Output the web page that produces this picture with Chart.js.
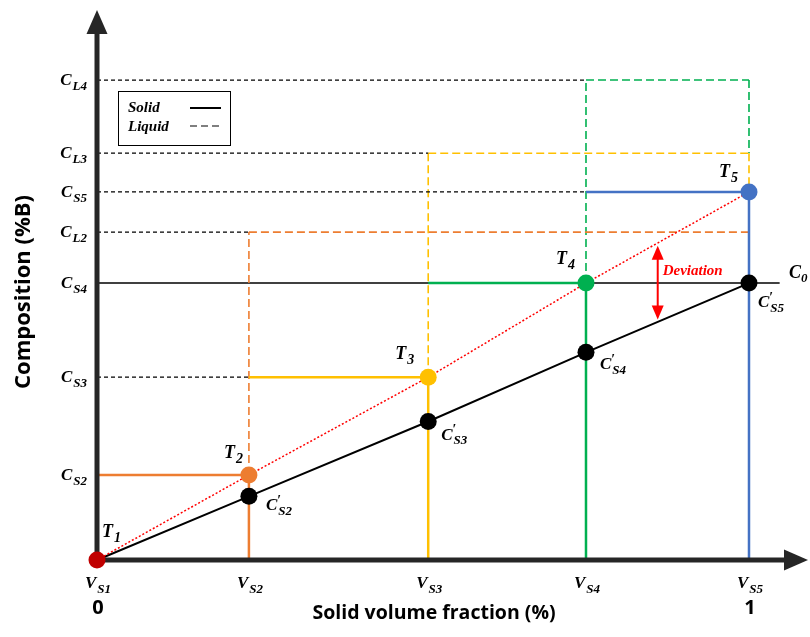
<!DOCTYPE html>
<html>
<head>
    <title>Solid volume fraction vs composition</title>
    <style>
        body {
            margin: 0;
            background: white;
        }
        .chart-box {
            width: 810px;
            height: 637px;
        }
    </style>
</head>
<body>
    <div class="chart-box">
        <canvas id="segChart"></canvas>
    </div>

    <script src="https://cdn.jsdelivr.net/npm/chart.js"></script>
    <script>
        // solid volume fraction of each step (V_S1 .. V_S5)
        const vs = [0, 0.233, 0.508, 0.75, 1];
        const vsNames = ['S1', 'S2', 'S3', 'S4', 'S5'];
        // solid composition at each T point (C_S1 .. C_S5)
        const cs = [0, 0.307, 0.66, 1.0, 1.329];
        // liquid composition for steps 2..4 (C_L2 .. C_L4)
        const cl = [1.184, 1.469, 1.733];
        // average solid composition C'_S
        const csPrime = [0, 0.23, 0.50, 0.75, 1.0];
        const c0 = 1.0;
        const stepColors = ['#C00000', '#ED7D31', '#FFC000', '#00B050', '#4472C4'];
        // y labels: [name, value]
        const yTicks = [
            ['S2', cs[1]], ['S3', cs[2]], ['S4', cs[3]], ['L2', cl[0]],
            ['S5', cs[4]], ['L3', cl[1]], ['L4', cl[2]]
        ];
        // deviation arrow: x, top, bottom
        const deviation = [0.86, 1.135, 0.868];
        const c0End = 1.047;

        const serif = '"Liberation Serif", "DejaVu Serif", serif';
        const datasets = [];

        function seg(x1, y1, x2, y2, color, width, dash, order) {
            datasets.push({
                data: [{ x: x1, y: y1 }, { x: x2, y: y2 }],
                showLine: true,
                borderColor: color,
                borderWidth: width,
                borderDash: dash || [],
                pointRadius: 0,
                fill: false,
                clip: false,
                order: order || 5
            });
        }

        // black dashed guides from the y axis
        seg(0, cs[2], vs[1], cs[2], '#000', 1.3, [4, 3]);
        seg(0, cs[4], vs[3], cs[4], '#000', 1.3, [4, 3]);
        seg(0, cl[0], vs[1], cl[0], '#000', 1.3, [4, 3]);
        seg(0, cl[1], vs[2], cl[1], '#000', 1.3, [4, 3]);
        seg(0, cl[2], vs[3], cl[2], '#000', 1.3, [4, 3]);
        // C0 line
        seg(0, c0, c0End, c0, '#000', 1.5, [], 6);

        // liquid (dashed) per step
        for (let i = 1; i <= 3; i++) {
            const col = stepColors[i];
            seg(vs[i], cs[i], vs[i], cl[i - 1], col, 1.6, [8, 4]);
            seg(vs[i], cl[i - 1], vs[4], cl[i - 1], col, 1.6, [8, 4]);
            if (i > 1) seg(vs[4], cl[i - 1], vs[4], i === 2 ? cs[4] : cl[i - 2], col, 1.6, [8, 4]);
        }

        // solid per step
        for (let i = 1; i <= 4; i++) {
            const col = stepColors[i];
            seg(vs[i - 1], cs[i], vs[i], cs[i], col, 2.5, [], 4);
            seg(vs[i], 0, vs[i], cs[i], col, 2.5, [], 4);
        }

        // average solid line
        datasets.push({
            data: vs.map((v, i) => ({ x: v, y: csPrime[i] })),
            showLine: true, borderColor: '#000', borderWidth: 2,
            pointRadius: 0, clip: false, order: 3
        });
        // T points line (dotted)
        datasets.push({
            data: vs.map((v, i) => ({ x: v, y: cs[i] })),
            showLine: true, borderColor: '#FF0000', borderWidth: 1.5,
            borderDash: [2, 2], pointRadius: 0, clip: false, order: 2
        });
        // markers
        const markerPts = [], markerCols = [];
        vs.forEach((v, i) => {
            if (i > 0) { markerPts.push({ x: v, y: csPrime[i] }); markerCols.push('#000'); }
        });
        vs.forEach((v, i) => { markerPts.push({ x: v, y: cs[i] }); markerCols.push(stepColors[i]); });
        datasets.push({
            data: markerPts, showLine: false, pointRadius: 8.5,
            pointBackgroundColor: markerCols, pointBorderWidth: 0,
            pointBorderColor: markerCols, clip: false, order: 1, isMarkers: true
        });

        function subText(ctx, x, y, main, sub, size, align, prime) {
            const mf = 'italic bold ' + size + 'px ' + serif;
            const sf = 'italic bold ' + Math.round(size * 0.76) + 'px ' + serif;
            ctx.font = mf;
            const mw = ctx.measureText(main).width;
            ctx.font = sf;
            const sw = ctx.measureText(sub).width;
            const total = mw + sw + 1;
            let left = x;
            if (align === 'right') left = x - total;
            if (align === 'center') left = x - total / 2;
            ctx.textAlign = 'left';
            ctx.textBaseline = 'alphabetic';
            ctx.font = mf;
            ctx.fillText(main, left, y);
            ctx.font = sf;
            ctx.fillText(sub, left + mw + 1, y + size * 0.28);
            if (prime) {
                ctx.font = 'bold ' + Math.round(size * 0.8) + 'px ' + serif;
                ctx.fillText('\u2032', left + mw, y - size * 0.3);
            }
        }

        function tri(ctx, pts) {
            ctx.beginPath();
            ctx.moveTo(pts[0], pts[1]);
            ctx.lineTo(pts[2], pts[3]);
            ctx.lineTo(pts[4], pts[5]);
            ctx.closePath();
            ctx.fill();
        }

        const axesPlugin = {
            id: 'axesPlugin',
            beforeDatasetDraw(chart, args) {
                if (!chart.data.datasets[args.index].isMarkers) return;
                const { ctx, chartArea: a } = chart;
                const x0 = chart.scales.x.getPixelForValue(0);
                const y0 = chart.scales.y.getPixelForValue(0);
                ctx.save();
                ctx.strokeStyle = '#262626';
                ctx.fillStyle = '#262626';
                ctx.lineWidth = 5;
                ctx.beginPath();
                ctx.moveTo(x0, y0 + 2.5);
                ctx.lineTo(x0, a.top + 20);
                ctx.moveTo(x0 - 2.5, y0);
                ctx.lineTo(a.right - 20, y0);
                ctx.stroke();
                tri(ctx, [x0, a.top, x0 - 10.5, a.top + 24, x0 + 10.5, a.top + 24]);
                tri(ctx, [a.right, y0, a.right - 24, y0 - 10.5, a.right - 24, y0 + 10.5]);
                ctx.restore();
            },
            afterDatasetsDraw(chart) {
                const { ctx } = chart;
                const sx = chart.scales.x, sy = chart.scales.y;
                const px = v => sx.getPixelForValue(v);
                const py = v => sy.getPixelForValue(v);
                ctx.save();
                ctx.fillStyle = '#000';
                // y labels
                yTicks.forEach(t => subText(ctx, 87, py(t[1]) + 5, 'C', t[0], 17, 'right'));
                // x labels
                vs.forEach((v, i) => subText(ctx, px(v) + 1, 588, 'V', vsNames[i], 17, 'center'));
                ctx.font = 'bold 20px "Open Sans", sans-serif';
                ctx.textAlign = 'center';
                ctx.textBaseline = 'middle';
                ctx.fillText('0', px(0) + 1, 608);
                ctx.fillText('1', px(1) + 1, 608);
                // titles
                ctx.font = 'bold 19.5px "Open Sans", sans-serif';
                ctx.fillText('Solid volume fraction (%)', 434, 613);
                ctx.save();
                ctx.translate(24, 292);
                ctx.rotate(-Math.PI / 2);
                ctx.font = 'bold 22px "Open Sans", sans-serif';
                ctx.fillText('Composition (%B)', 0, 0);
                ctx.restore();
                // point labels
                const tOff = [[5, -23], [-25, -17], [-33, -18], [-30, -19], [-30, -15]];
                vs.forEach((v, i) => subText(ctx, px(v) + tOff[i][0], py(cs[i]) + tOff[i][1], 'T', String(i + 1), 18, 'left'));
                const pOff = [null, [17, 14], [13, 18], [14, 17], [9, 24]];
                for (let i = 1; i <= 4; i++) {
                    subText(ctx, px(vs[i]) + pOff[i][0], py(csPrime[i]) + pOff[i][1], 'C', vsNames[i], 17, 'left', true);
                }
                ctx.font = 'italic bold 18px ' + serif;
                ctx.textAlign = 'left';
                ctx.textBaseline = 'alphabetic';
                ctx.fillText('C', 789, py(c0) - 5);
                ctx.font = 'italic bold 13px ' + serif;
                ctx.fillText('0', 801, py(c0) - 1);
                // deviation arrow
                const dx = px(deviation[0]), dt = py(deviation[1]), db = py(deviation[2]);
                ctx.fillStyle = '#FF0000';
                ctx.strokeStyle = '#FF0000';
                ctx.lineWidth = 2;
                ctx.beginPath();
                ctx.moveTo(dx, dt + 10);
                ctx.lineTo(dx, db - 10);
                ctx.stroke();
                tri(ctx, [dx, dt, dx - 6, dt + 14, dx + 6, dt + 14]);
                tri(ctx, [dx, db, dx - 6, db - 14, dx + 6, db - 14]);
                ctx.font = 'italic bold 15px ' + serif;
                ctx.fillText('Deviation', dx + 5, py(c0) - 8);
                // legend box
                ctx.strokeStyle = '#000';
                ctx.fillStyle = '#000';
                ctx.lineWidth = 1;
                ctx.strokeRect(118.5, 91.5, 112, 54);
                ctx.font = 'italic bold 15px ' + serif;
                ctx.fillText('Solid', 128, 112);
                ctx.fillText('Liquid', 128, 131);
                ctx.lineWidth = 2;
                ctx.beginPath();
                ctx.moveTo(190, 108);
                ctx.lineTo(221, 108);
                ctx.stroke();
                ctx.lineWidth = 1.2;
                ctx.setLineDash([7, 4]);
                ctx.beginPath();
                ctx.moveTo(190, 126);
                ctx.lineTo(222, 126);
                ctx.stroke();
                ctx.restore();
            }
        };

        new Chart(document.getElementById('segChart'), {
            type: 'scatter',
            data: { datasets: datasets },
            options: {
                responsive: true,
                maintainAspectRatio: false,
                animation: false,
                layout: { autoPadding: false, padding: { left: 97, right: 2, top: 10, bottom: 77 } },
                plugins: { legend: { display: false }, tooltip: { enabled: false } },
                scales: {
                    x: { type: 'linear', display: false, min: 0, max: 1.0905 },
                    y: { type: 'linear', display: false, min: 0, max: 1.986 }
                }
            },
            plugins: [axesPlugin]
        });
    </script>
</body>
</html>
